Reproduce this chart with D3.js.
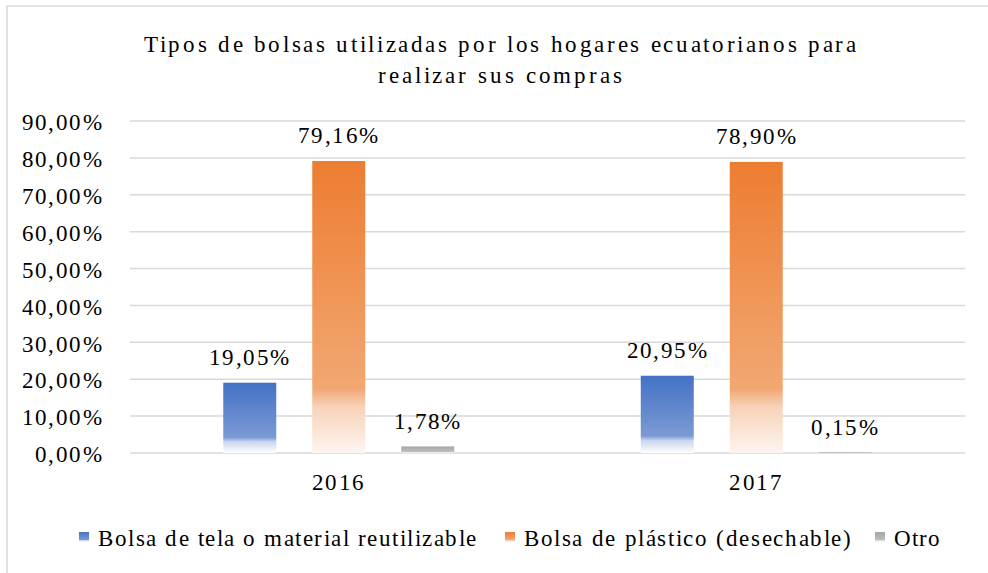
<!DOCTYPE html>
<html><head><meta charset="utf-8">
<script src="https://cdn.jsdelivr.net/npm/d3@7"></script>
<style>
@font-face{font-family:"ChartSerif";src:local("Liberation Serif"),local("LiberationSerif"),local("LiberationSerif-Regular"),local("Times New Roman");}
</style>
</head>
<body style="margin:0;background:#fff"><svg id="c" width="988" height="573"></svg>
<script>
const titleLines = ["Tipos de bolsas utilizadas por los hogares ecuatorianos para", "realizar sus compras"];
const years = ["2016", "2017"];
const seriesNames = ["Bolsa de tela o material reutilizable", "Bolsa de plástico (desechable)", "Otro"];
const tela = [19.05, 20.95];
const plastico = [79.16, 78.90];
const otro = [1.78, 0.15];
const yTicks = [0, 10, 20, 30, 40, 50, 60, 70, 80, 90];
const seriesColors = [
  ["#4472C4", "#7b9ad4", "#c9d6ef", "#ffffff"],
  ["#ED7D31", "#f2a772", "#f7d2b8", "#fdf5f0"],
  ["#A5A5A5", "#bdbdbd", "#dcdcdc", "#ffffff"]
];

const seriesValues = [tela, plastico, otro];
const svg = d3.select("#c");
const fmt = v => v.toFixed(2).replace(".", ",") + "%";
const FONT = '"ChartSerif", "Liberation Serif"';

svg.append("path").attr("d", "M7,575 V6 H990").attr("fill","none").attr("stroke","#d9d9d9").attr("stroke-width",1.5);

const defs = svg.append("defs");
seriesColors.forEach((c, i) => {
  const g = defs.append("linearGradient").attr("id","g"+i).attr("x1",0).attr("y1",0).attr("x2",0).attr("y2",1);
  [[0,c[0]],[0.78,c[1]],[0.84,c[2]],[1,c[3]]].forEach(([o,col]) => g.append("stop").attr("offset",o).attr("stop-color",col));
});

const titleW = [712, 244];
svg.append("g").selectAll("text").data(titleLines).join("text")
  .attr("x",500).attr("y",(d,i)=>52+i*31).attr("text-anchor","middle")
  .attr("font-size",23).attr("fill","#000")
  .attr("textLength",(d,i)=>titleW[i]).attr("lengthAdjust","spacing").text(d=>d);

const x = d3.scaleBand().domain(years).range([130,965]).paddingInner(0).paddingOuter(0);
const xs = d3.scaleBand().domain(d3.range(3)).range([0, x.bandwidth()]).paddingInner(0.4045).paddingOuter(1.048);
const y = d3.scaleLinear().domain([0,90]).range([453,121]);

svg.append("g").selectAll("line").data(yTicks).join("line")
  .attr("x1",130).attr("x2",965).attr("y1",d=>y(d)).attr("y2",d=>y(d))
  .attr("stroke","#d9d9d9").attr("stroke-width",1.5);

const yAxis = svg.append("g").attr("transform","translate(103,0)")
  .call(d3.axisLeft(y).tickValues(yTicks).tickSize(0).tickPadding(0).tickFormat(fmt));
yAxis.attr("font-size",23);
yAxis.select(".domain").remove();
yAxis.selectAll("text").attr("letter-spacing",1.4).attr("dy","0.38em").attr("fill","#000");

const xAxis = svg.append("g").attr("transform","translate(0,453)")
  .call(d3.axisBottom(x).tickSize(0).tickPadding(0));
xAxis.attr("font-size",23);
xAxis.select(".domain").remove();
xAxis.selectAll("text").attr("letter-spacing",1.4).attr("dy",null).attr("y",37).attr("fill","#000");

const data = [];
years.forEach((yr, gi) => seriesValues.forEach((vals, si) => data.push({yr, si, v: vals[gi]})));
const bars = svg.append("g");
bars.selectAll("rect").data(data).join("rect")
  .attr("x", d => x(d.yr) + xs(d.si)).attr("width", xs.bandwidth())
  .attr("y", d => y(d.v)).attr("height", d => y(0) - y(d.v))
  .attr("fill", d => `url(#g${d.si})`);
bars.selectAll("text").data(data).join("text")
  .attr("x", d => x(d.yr) + xs(d.si) + xs.bandwidth()/2)
  .attr("y", d => y(d.v) - 17.5)
  .attr("text-anchor","middle").attr("font-size",23).attr("letter-spacing",1.4)
  .attr("fill","#000")
  .text(d => fmt(d.v));

const legendX = [79, 505, 875];
const legendW = [378, 327, 46];
const lg = svg.append("g");
seriesNames.forEach((n, i) => {
  lg.append("rect").attr("x", legendX[i]).attr("y", 532).attr("width", 10).attr("height", 10).attr("fill", `url(#g${i})`);
  lg.append("text").attr("x", legendX[i] + 19).attr("y", 546).attr("font-size", 23)
    .attr("fill","#000")
    .attr("textLength", legendW[i]).attr("lengthAdjust","spacing").text(n);
});

svg.selectAll("g").attr("font-family", null);
svg.selectAll("text").attr("font-family", FONT);
</script></body></html>
